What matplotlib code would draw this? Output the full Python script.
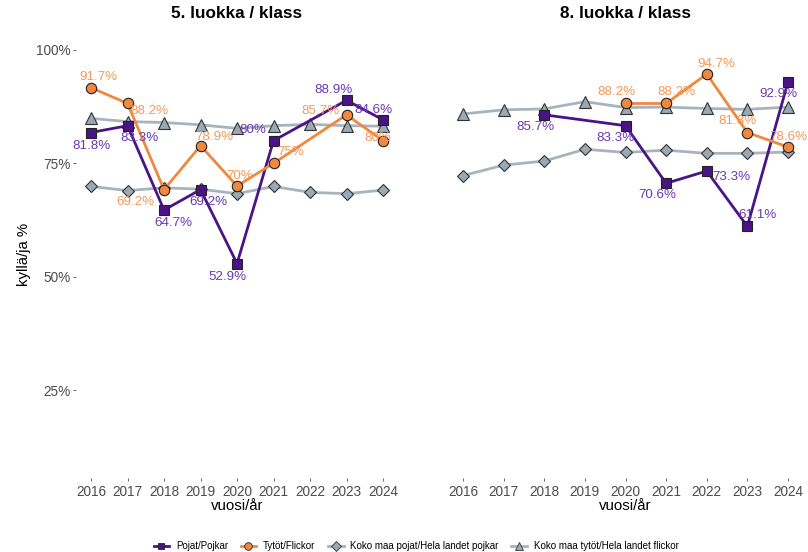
"""Yes-answer shares by year for grades 5 and 8, with national reference lines."""

import matplotlib.pyplot as plt
from matplotlib.lines import Line2D

plt.rcParams["font.family"] = ["Liberation Sans", "DejaVu Sans"]

YEARS = [2016, 2017, 2018, 2019, 2020, 2021, 2022, 2023, 2024]

# grade 5
G5_YEARS = [2016, 2017, 2018, 2019, 2020, 2021, 2023, 2024]
G5_BOYS = [81.8, 83.3, 64.7, 69.2, 52.9, 80.0, 88.9, 84.6]
G5_GIRLS = [91.7, 88.2, 69.2, 78.9, 70.0, 75.0, 85.7, 80.0]
G5_NAT_BOYS = [69.9, 69.0, 69.6, 69.3, 68.3, 69.9, 68.6, 68.3, 69.1]
G5_NAT_GIRLS = [84.9, 84.2, 84.0, 83.5, 82.7, 83.3, 83.6, 83.3, 83.2]

# grade 8
G8_BOYS_YEARS = [2018, 2020, 2021, 2022, 2023, 2024]
G8_BOYS = [85.7, 83.3, 70.6, 73.3, 61.1, 92.9]
G8_GIRLS_YEARS = [2020, 2021, 2022, 2023, 2024]
G8_GIRLS = [88.2, 88.2, 94.7, 81.8, 78.6]
G8_NAT_BOYS = [72.3, 74.6, 75.5, 78.1, 77.4, 77.9, 77.2, 77.2, 77.5]
G8_NAT_GIRLS = [85.9, 86.8, 87.0, 88.6, 87.3, 87.4, 87.1, 86.9, 87.4]

TITLES = ["5. luokka / klass", "8. luokka / klass"]
LEGEND_LABELS = [
    "Pojat/Pojkar",
    "Tytöt/Flickor",
    "Koko maa pojat/Hela landet pojkar",
    "Koko maa tytöt/Hela landet flickor",
]

# label nudges in pixels (dx, dy), one per point
G5_BOYS_NUDGE = [(0, -13), (12, -12), (9, -13), (8, -12), (-10, -13), (-21, 11), (-13, 10), (-10, 10)]
G5_GIRLS_NUDGE = [(7, 11), (22, -8), (-29, -12), (14, 9), (3, 10), (17, 11), (-26, 4), (-5, 3)]
G8_BOYS_NUDGE = [(-9, -12), (-10, -12), (-9, -12), (25, -6), (10, 11), (-10, -12)]
G8_GIRLS_NUDGE = [(-9, 11), (10, 11), (10, 10), (-10, 12), (0, 10)]

PURPLE = "#4a1486"
PURPLE_TXT = "#6a3ab2"
ORANGE = "#f0883e"
ORANGE_TXT = "#f39a58"
GREY = "#a7b4be"
GREY_FILL = "#9aa9b4"

fig = plt.figure(figsize=(8.08, 5.52), dpi=100)
ax_l = fig.add_axes([0.0946, 0.1333, 0.3975, 0.8131])
ax_r = fig.add_axes([0.553, 0.1333, 0.4423, 0.8131])


def label_points(ax, xs, ys, nudges, color):
    for x, y, (dx, dy) in zip(xs, ys, nudges):
        ax.annotate(
            f"{y:g}%",
            (x, y),
            xytext=(dx, dy),
            textcoords="offset pixels",
            ha="center",
            va="center",
            fontsize=9.6,
            color=color,
            zorder=10,
        )


def draw_panel(ax, title, boys_x, boys, girls_x, girls, nat_boys, nat_girls, nb, ng):
    ax.plot(YEARS, nat_boys, color=GREY, lw=2, zorder=1)
    ax.plot(YEARS, nat_girls, color=GREY, lw=2, zorder=1)
    ax.plot(YEARS, nat_boys, ls="none", marker="D", ms=6.5, mfc=GREY_FILL,
            mec="#333333", mew=0.8, zorder=2)
    ax.plot(YEARS, nat_girls, ls="none", marker="^", ms=8.5, mfc=GREY_FILL,
            mec="#333333", mew=0.8, zorder=2)
    ax.plot(boys_x, boys, color=PURPLE, lw=2, zorder=3)
    ax.plot(girls_x, girls, color=ORANGE, lw=2, zorder=3)
    ax.plot(boys_x, boys, ls="none", marker="s", ms=7, mfc=PURPLE,
            mec="#222222", mew=0.8, zorder=4)
    ax.plot(girls_x, girls, ls="none", marker="o", ms=7.5, mfc=ORANGE,
            mec="#222222", mew=0.8, zorder=4)
    label_points(ax, boys_x, boys, nb, PURPLE_TXT)
    label_points(ax, girls_x, girls, ng, ORANGE_TXT)

    ax.set_xlim(2015.6, 2024.4)
    ax.set_ylim(5.5, 104.5)
    ax.set_xticks(YEARS)
    ax.set_yticks([25, 50, 75, 100])
    ax.set_yticklabels(["25%", "50%", "75%", "100%"])
    for side in ax.spines.values():
        side.set_visible(False)
    ax.tick_params(length=2.5, width=0.6, color="#4d4d4d", labelcolor="#4d4d4d",
                   labelsize=9.8, pad=2)
    ax.set_title(title, fontsize=12.3, fontweight="bold", pad=8)
    ax.set_xlabel("vuosi/år", fontsize=10.8, labelpad=0)


draw_panel(ax_l, TITLES[0], G5_YEARS, G5_BOYS, G5_YEARS, G5_GIRLS,
           G5_NAT_BOYS, G5_NAT_GIRLS, G5_BOYS_NUDGE, G5_GIRLS_NUDGE)
draw_panel(ax_r, TITLES[1], G8_BOYS_YEARS, G8_BOYS, G8_GIRLS_YEARS, G8_GIRLS,
           G8_NAT_BOYS, G8_NAT_GIRLS, G8_BOYS_NUDGE, G8_GIRLS_NUDGE)
ax_l.set_ylabel("kyllä/ja %", fontsize=10.8, labelpad=3)
ax_r.tick_params(axis="y", left=False, labelleft=False)

handles = [
    Line2D([], [], color=PURPLE, lw=2, marker="s", ms=5, mfc=PURPLE, mec="#222222", mew=0.6),
    Line2D([], [], color=ORANGE, lw=2, marker="o", ms=5.5, mfc=ORANGE, mec="#222222", mew=0.6),
    Line2D([], [], color=GREY, lw=2, marker="D", ms=5, mfc=GREY_FILL, mec="#333333", mew=0.6),
    Line2D([], [], color=GREY, lw=2, marker="^", ms=6, mfc=GREY_FILL, mec="#333333", mew=0.6),
]
fig.legend(handles, LEGEND_LABELS, loc="center", bbox_to_anchor=(0.515, 0.01),
           ncol=4, frameon=False, fontsize=7, handlelength=1.6, columnspacing=1.3,
           handletextpad=0.7)

fig.savefig("out.png", dpi=100)
